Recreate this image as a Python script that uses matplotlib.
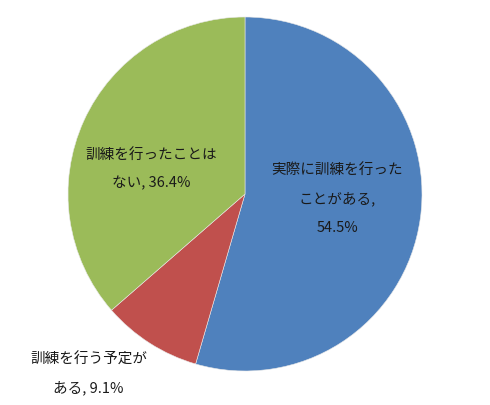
import matplotlib
matplotlib.use('Agg')
import matplotlib.pyplot as plt

plt.rcParams['font.family'] = ['Noto Sans CJK JP', 'DejaVu Sans']

# ---------- データ ----------
labels = ['実際に訓練を行った\nことがある', '訓練を行う予定が\nある', '訓練を行ったことは\nない']
values = [54.5, 9.1, 36.4]
colors = ['#4F81BD', '#C0504D', '#9BBB59']
# ラベル位置 (円の中心からの相対位置, 半径=1)
label_pos = [(0.52, -0.028), (-0.884, -1.017), (-0.531, 0.141)]

W, H = 490, 405
cx, cy, r = 245, 194, 177

fig = plt.figure(figsize=(W / 100, H / 100), dpi=100)
ax = fig.add_axes([(cx - r) / W, (H - cy - r) / H, 2 * r / W, 2 * r / H])
ax.pie(values, colors=colors, startangle=90, counterclock=False, radius=1,
       wedgeprops=dict(linewidth=0.4, edgecolor='#e8e8e8'))
ax.set_xlim(-1, 1)
ax.set_ylim(-1, 1)
ax.axis('off')

for lab, v, (x, y) in zip(labels, values, label_pos):
    if v > 50:
        txt = f'{lab},\n{v}%'
    else:
        txt = f'{lab}, {v}%'
    ax.text(x, y, txt, ha='center', va='center', fontsize=10.5,
            color='#1a1a1a', linespacing=2.25, clip_on=False)

fig.savefig('out.png', dpi=100, facecolor='white')
